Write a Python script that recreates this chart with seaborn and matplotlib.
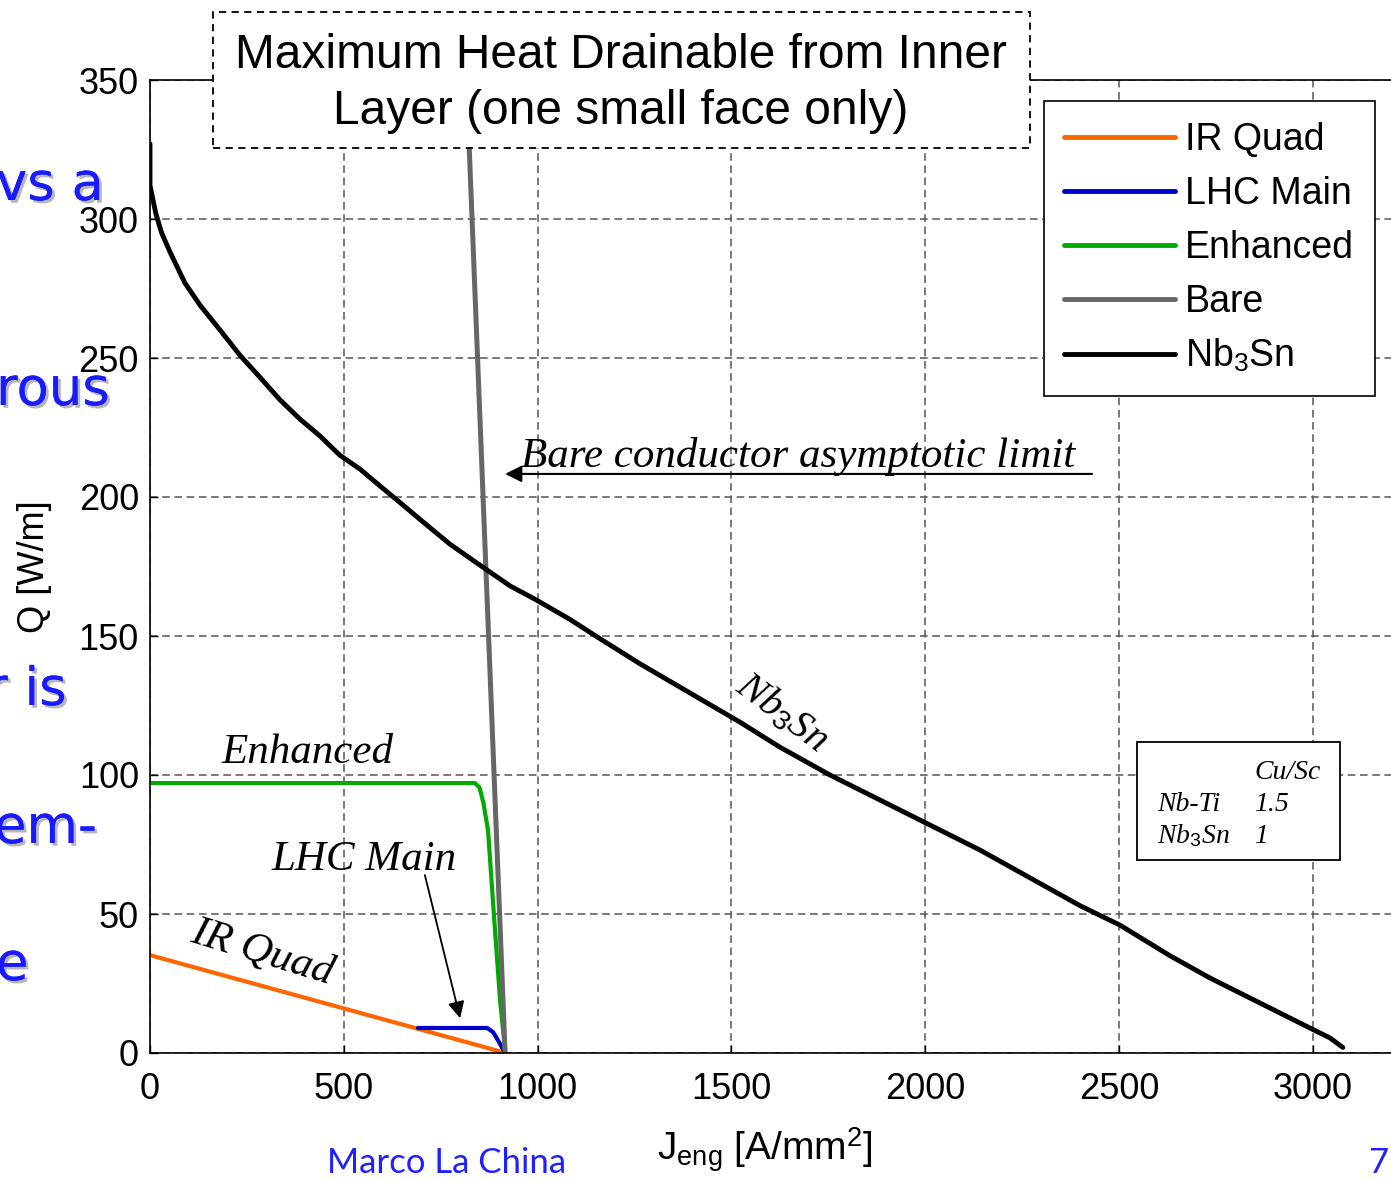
import numpy as np
import pandas as pd
import seaborn as sns
import matplotlib
matplotlib.use("Agg")
import matplotlib.pyplot as plt
from matplotlib.patches import Rectangle
import matplotlib.patheffects as pe

# ---------------- data ----------------
nb3sn_j = [0, 0, 15, 30, 52, 90, 129, 181, 232, 284, 335, 387, 438, 490, 542, 593, 645, 696,
           774, 851, 929, 996, 1083, 1161, 1264, 1393, 1522, 1625, 1754, 1883, 2012,
           2141, 2270, 2399, 2502, 2631, 2734, 2863, 2992, 3044, 3077]
nb3sn_q = [327, 312, 302, 295, 288, 277, 269, 260, 251, 243, 235, 228, 222, 215, 210, 204, 198, 192,
           183, 175.5, 168, 163, 156, 149, 140, 129.5, 119, 110, 100, 91, 82,
           73, 63, 53, 46, 35, 27, 18, 9, 5.4, 2]

irquad_j = [0, 918]
irquad_q = [35.2, 0]

lhc_j = [691, 870, 885, 900, 912]
lhc_q = [9.0, 9.0, 7.5, 4.0, 1.0]

enh_j = [0, 838, 850, 860, 872, 890, 903, 916]
enh_q = [97.1, 97.1, 95.5, 90, 80, 44, 19, 1]

bare_j = [916, 808]
bare_q = [0, 380]

series_names = ["IR Quad", "LHC Main", "Enhanced", "Bare", "Nb$_3$Sn"]
series_colors = ["#ff6600", "#0000cc", "#00aa00", "#666666", "#000000"]

x_ticks = [0, 500, 1000, 1500, 2000, 2500, 3000]
y_ticks = [0, 50, 100, 150, 200, 250, 300, 350]

# ---------------- style ----------------
sns.set_theme(style="ticks")
plt.rcParams["font.family"] = ["Liberation Sans", "DejaVu Sans"]
plt.rcParams["text.color"] = "black"
plt.rcParams["axes.labelcolor"] = "black"
plt.rcParams["xtick.color"] = "black"
plt.rcParams["ytick.color"] = "black"
plt.rcParams["mathtext.fontset"] = "custom"
plt.rcParams["mathtext.rm"] = "Liberation Sans"
plt.rcParams["mathtext.it"] = "Liberation Serif:italic"
plt.rcParams["mathtext.bf"] = "Liberation Sans:bold"

W, H = 1391, 1180
fig = plt.figure(figsize=(W / 100, H / 100), dpi=100)
fig.patch.set_facecolor("white")

px_per_x = (1313 - 150) / 3000.0
x_max = 3300
ax_left = 150 / W
ax_bottom = (H - 1053) / H
ax_w = x_max * px_per_x / W
ax_h = (1053 - 80) / H
ax = fig.add_axes([ax_left, ax_bottom, ax_w, ax_h])
ax_px_w = x_max * px_per_x

datasets = [
    (irquad_j, irquad_q),
    (lhc_j, lhc_q),
    (enh_j, enh_q),
    (bare_j, bare_q),
    (nb3sn_j, nb3sn_q),
]
widths = [3.0, 3.0, 3.0, 3.6, 3.5]
for (xs, ys), name, col, lw in zip(datasets, series_names, series_colors, widths):
    df = pd.DataFrame({"J": xs, "Q": ys})
    sns.lineplot(data=df, x="J", y="Q", sort=False, estimator=None, color=col,
                 linewidth=lw, label=name, ax=ax, solid_capstyle="round",
                 solid_joinstyle="round")

ax.set_xlim(0, x_max)
ax.set_ylim(0, 350)
ax.set_xticks(x_ticks)
ax.set_yticks(y_ticks)
ax.tick_params(axis="both", labelsize=26, direction="in", length=6, width=1,
               colors="black", labelcolor="black")
ax.tick_params(axis="x", pad=14)
ax.tick_params(axis="y", pad=8)
ax.grid(True, linestyle=(0, (5, 3)), color="#555555", linewidth=1.1)
for s in ["left", "bottom", "top"]:
    ax.spines[s].set_visible(True)
    ax.spines[s].set_color("black")
    ax.spines[s].set_linewidth(1.2)
ax.spines["right"].set_visible(False)

ax.set_xlabel(r"J$_{\rm eng}$ [A/mm$^2$]", fontsize=28, color="black")
ax.xaxis.set_label_coords((765 - 150) / ax_px_w, -(1125 - 1053) / 973.0)
ax.xaxis.label.set_va("top")
ax.set_ylabel("Q [W/m]", fontsize=26, color="black")
ax.yaxis.set_label_coords((52 - 150) / ax_px_w, 0.5)

# legend
leg = ax.legend(loc="upper right", bbox_to_anchor=(1375 / W, (H - 101) / H),
                bbox_transform=fig.transFigure, fontsize=27, frameon=True,
                fancybox=False, edgecolor="black", framealpha=1,
                handlelength=2.95, handletextpad=0.28, labelspacing=0.48,
                borderpad=0.55, borderaxespad=0)
leg.get_frame().set_linewidth(1.2)
for lh in leg.get_lines():
    lh.set_linewidth(3.5)
for t in leg.get_texts():
    t.set_color("black")

# annotations on axes
serif_it = dict(family=["Liberation Serif", "DejaVu Serif"], style="italic", color="black")
ax.annotate("", xy=(916, 208.3), xytext=(2430, 208.3),
            arrowprops=dict(arrowstyle="-|>", color="black", lw=1.5,
                            mutation_scale=25, shrinkA=0, shrinkB=0))
ax.text(1671, 210.8, "Bare conductor asymptotic limit", fontsize=31,
        ha="center", va="baseline", **serif_it)
ax.text(405, 104.3, "Enhanced", fontsize=31, ha="center", va="baseline", **serif_it)
ax.text(552, 65.8, "LHC Main", fontsize=31, ha="center", va="baseline", **serif_it)
ax.annotate("", xy=(800, 12.5), xytext=(709, 64),
            arrowprops=dict(arrowstyle="-|>", color="black", lw=1.3,
                            mutation_scale=25, shrinkA=0, shrinkB=0))
ax.text(289, 36.3, "IR Quad", fontsize=31, ha="center", va="center",
        rotation=-17, rotation_mode="anchor", **serif_it)
ax.text(1630, 122.7, r"$\mathit{Nb_3Sn}$", fontsize=29, ha="center", va="center",
        rotation=-37, rotation_mode="anchor", color="black")

# Cu/Sc table box (figure coords)
def fx(px):
    return px / W

def fy(py):
    return (H - py) / H

fig.patches.append(Rectangle((fx(1137), fy(860)), fx(1340) - fx(1137), fy(742) - fy(860),
                             transform=fig.transFigure, facecolor="white",
                             edgecolor="black", linewidth=1.3, zorder=5))
tab_kw = dict(fontsize=20, va="baseline", ha="left", zorder=6, **serif_it)
fig.text(fx(1254), fy(779), "Cu/Sc", **tab_kw)
fig.text(fx(1157), fy(811), "Nb-Ti", **tab_kw)
fig.text(fx(1254), fy(811), "1.5", **tab_kw)
fig.text(fx(1157), fy(843), r"Nb$_{\mathit{3}}$Sn", **tab_kw)
fig.text(fx(1254), fy(843), "1", **tab_kw)

# title box
fig.patches.append(Rectangle((fx(213), fy(148)), fx(1030) - fx(213), fy(12) - fy(148),
                             transform=fig.transFigure, facecolor="white",
                             edgecolor="black", linewidth=1.3,
                             linestyle=(0, (4, 3)), zorder=5))
fig.text(fx(621), fy(55), "Maximum Heat Drainable from Inner", fontsize=34.5,
         ha="center", va="center", zorder=6, color="black")
fig.text(fx(621), fy(112), "Layer (one small face only)", fontsize=34.5,
         ha="center", va="center", zorder=6, color="black")

# slide fragments (blue handwriting-like text, cropped at left edge)
blue = "#1a1aff"
shadow = [pe.withSimplePatchShadow(offset=(2, -2), shadow_rgbFace="#999999", alpha=0.7),
          pe.Normal()]
frag_kw = dict(fontsize=38, color=blue, ha="left", va="center",
               family=["DejaVu Sans"], path_effects=shadow, zorder=2)
fig.text(fx(-4), fy(185), "vs a", **frag_kw)
fig.text(fx(-4), fy(390), "rous", **frag_kw)
fig.text(fx(-14), fy(690), "r is", **frag_kw)
fig.text(fx(-6), fy(828), "em-", **frag_kw)
fig.text(fx(-4), fy(965), "e", **frag_kw)

fig.text(fx(327), fy(1163), "Marco La China", fontsize=25, color="#2020ff", ha="left",
         va="center", family=["Lato", "DejaVu Sans"])
fig.text(fx(1368), fy(1163), "7", fontsize=25, color="#2020ff", ha="left",
         va="center", family=["Lato", "DejaVu Sans"])

fig.savefig("out.png", dpi=100, facecolor="white")
